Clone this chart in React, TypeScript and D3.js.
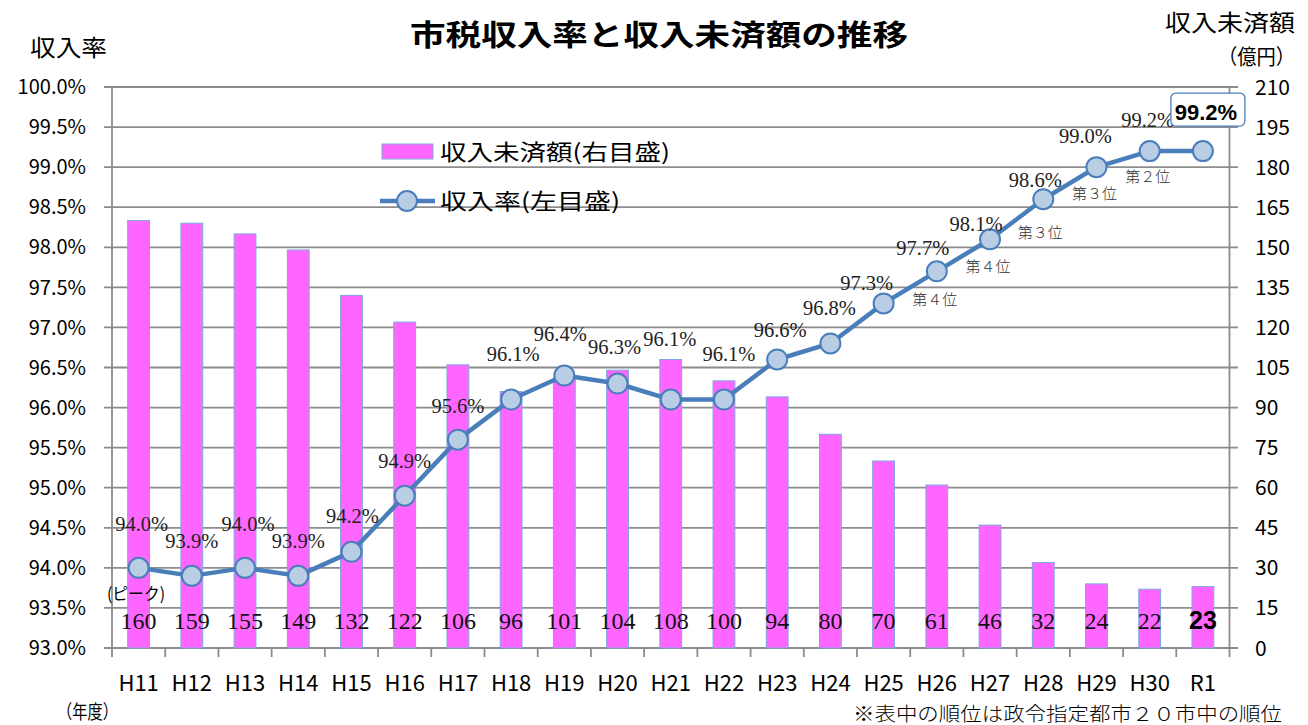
import * as d3 from "d3";
import React from "react";

// 年度
const years = [
  "H11", "H12", "H13", "H14", "H15", "H16", "H17", "H18", "H19", "H20", "H21",
  "H22", "H23", "H24", "H25", "H26", "H27", "H28", "H29", "H30", "R1",
];
// 収入未済額（億円）
const arrears = [160, 159, 155, 149, 132, 122, 106, 96, 101, 104, 108, 100, 94, 80, 70, 61, 46, 32, 24, 22, 23];
// 収入率（%）
const rates = [94.0, 93.9, 94.0, 93.9, 94.2, 94.9, 95.6, 96.1, 96.4, 96.3, 96.1, 96.1, 96.6, 96.8, 97.3, 97.7, 98.1, 98.6, 99.0, 99.2, 99.2];
// 政令市20市中の順位
const ranks = ["", "", "", "", "", "", "", "", "", "", "", "", "", "", "", "第４位", "第４位", "第３位", "第３位", "第２位", ""];
const leftTicks = d3.range(93, 100.001, 0.5);
const rightTicks = d3.range(0, 211, 15);

// label nudges (dx, dy from the marker) to mimic the hand-placed labels
const rateLabelNudge: [number, number][] = [
  [3, -37], [0, -28], [3, -37], [0, -28], [1, -29], [0, -28], [0, -27],
  [2, -39], [-4, -35], [-3, -30], [-1, -54], [5, -39], [3, -22], [-1, -28],
  [-17, -13], [-14, -16], [-14, -8], [-8, -12], [-11, -24], [-2, -24], [0, 0],
];
const rankLabelNudge: [number, number][] = years.map((_, i) =>
  [[-2, 34], [-2, 33], [-3, 39], [-2, 32], [-2, 31]][i - 15] as [number, number] || [0, 0]
);

const W = 1308;
const H = 725;
const plot = { left: 112, right: 1229.5, top: 87, bottom: 648 };

const SANS = "'Noto Sans CJK JP', 'Noto Sans', sans-serif";
const SERIF = "'Liberation Serif', 'DejaVu Serif', serif";
const NARROW = "'Liberation Sans Narrow', 'Liberation Sans', sans-serif";

const LINE = "#4a7ebb";
const GRID = "#8c8c8c";

const App: React.FC = () => {
  const x = d3.scaleBand<string>().domain(years).range([plot.left, plot.right]).padding(0);
  const yL = d3.scaleLinear().domain([93, 100]).range([plot.bottom, plot.top]);
  const yR = d3.scaleLinear().domain([0, 210]).range([plot.bottom, plot.top]);
  const cx = (y: string) => (x(y) as number) + x.bandwidth() / 2;
  const barW = x.bandwidth() * 0.41;

  const line = d3
    .line<number>()
    .x((_, i) => cx(years[i]))
    .y((d) => yL(d));

  const last = years.length - 1;

  return (
    <svg width={W} height={H} style={{ position: "absolute", left: 0, top: 0, background: "#fff" }}>
      {/* gridlines */}
      {leftTicks.map((t) => (
        <line key={t} x1={plot.left - 8} x2={plot.right + 8.5} y1={yL(t)} y2={yL(t)} stroke={GRID} strokeWidth={1.8} />
      ))}
      {/* axes */}
      <line x1={plot.left} x2={plot.left} y1={plot.top} y2={plot.bottom} stroke={GRID} strokeWidth={1.8} />
      <line x1={plot.right} x2={plot.right} y1={plot.top} y2={plot.bottom} stroke={GRID} strokeWidth={1.8} />
      {years.map((y) => (
        <line key={y} x1={x(y)} x2={x(y)} y1={plot.bottom} y2={plot.bottom + 9} stroke={GRID} strokeWidth={1.8} />
      ))}
      <line x1={plot.right} x2={plot.right} y1={plot.bottom} y2={plot.bottom + 9} stroke={GRID} strokeWidth={1.8} />

      {/* left ticks */}
      {leftTicks.map((t) => (
        <text key={t} x={86} y={yL(t)} dy="0.36em" textAnchor="end" fontFamily={SANS} fontSize={20} fill="#000">
          {t.toFixed(1) + "%"}
        </text>
      ))}
      {/* right ticks */}
      {rightTicks.map((t) => (
        <text key={t} x={1255} y={yR(t)} dy="0.36em" fontFamily={SANS} fontSize={21} fill="#000">
          {t}
        </text>
      ))}
      {/* x labels */}
      {years.map((y) => (
        <text key={y} x={cx(y)} y={691} textAnchor="middle" fontFamily={SANS} fontSize={22} fill="#000">
          {y}
        </text>
      ))}

      {/* bars */}
      {arrears.map((v, i) => (
        <rect
          key={years[i]}
          x={cx(years[i]) - barW / 2}
          y={yR(v)}
          width={barW}
          height={yR(0) - yR(v)}
          fill="#ff66ff"
          stroke="#7ea6e0"
          strokeWidth={1}
        />
      ))}
      {/* bar value labels */}
      {arrears.map((v, i) =>
        i === last ? (
          <text key={i} x={cx(years[i])} y={yR(0) - 19} textAnchor="middle" fontFamily={NARROW} fontWeight="bold" fontSize={25} fill="#000">
            {v}
          </text>
        ) : (
          <text key={i} x={cx(years[i])} y={yR(0) - 19} textAnchor="middle" fontFamily={SERIF} fontSize={24} fill="#111">
            {v}
          </text>
        )
      )}

      {/* rate line */}
      <path d={line(rates) as string} fill="none" stroke={LINE} strokeWidth={4.5} strokeLinejoin="round" />
      {rates.map((v, i) => (
        <circle key={i} cx={cx(years[i])} cy={yL(v)} r={10} fill="#b9cde5" stroke={LINE} strokeWidth={2} />
      ))}
      {/* rate labels */}
      {rates.map((v, i) =>
        i === last ? null : (
          <text
            key={i}
            x={cx(years[i]) + rateLabelNudge[i][0]}
            y={yL(v) + rateLabelNudge[i][1]}
            textAnchor="middle"
            fontFamily={SERIF}
            fontSize={20.5}
            fill="#222"
          >
            {v.toFixed(1) + "%"}
          </text>
        )
      )}
      {/* R1 highlighted label */}
      <rect x={cx(years[last]) - 32} y={yL(rates[last]) - 58} width={74} height={33} rx={5} fill="#fff" stroke={LINE} strokeWidth={1.3} />
      <text
        x={cx(years[last]) + 3}
        y={yL(rates[last]) - 31}
        textAnchor="middle"
        fontFamily={NARROW}
        fontWeight="bold"
        fontSize={22}
        fill="#000"
      >
        {rates[last].toFixed(1) + "%"}
      </text>
      {/* rank labels */}
      {ranks.map((r, i) =>
        r ? (
          <text
            key={i}
            x={cx(years[i]) + rankLabelNudge[i][0]}
            y={yL(rates[i]) + rankLabelNudge[i][1]}
            textAnchor="middle"
            fontFamily={SANS}
            fontWeight={300}
            fontSize={15}
            fill="#333"
          >
            {r}
          </text>
        ) : null
      )}
      <text x={107} y={600} fontFamily={SANS} fontSize={17} textLength={58} lengthAdjust="spacingAndGlyphs" fill="#000">
        (ピーク)
      </text>

      {/* legend */}
      <rect x={382} y={144} width={51} height={15} fill="#ff66ff" stroke="#7ea6e0" strokeWidth={1} />
      <text x={440} y={160} fontFamily={SANS} fontSize={22} textLength={230} lengthAdjust="spacingAndGlyphs" fill="#000">
        収入未済額(右目盛)
      </text>
      <line x1={380} x2={435} y1={201} y2={201} stroke={LINE} strokeWidth={4.5} />
      <circle cx={407} cy={201} r={10} fill="#b9cde5" stroke={LINE} strokeWidth={2} />
      <text x={440} y={209} fontFamily={SANS} fontSize={22} textLength={180} lengthAdjust="spacingAndGlyphs" fill="#000">
        収入率(左目盛)
      </text>

      {/* titles */}
      <text x={410} y={46} fontFamily={SANS} fontWeight="bold" fontSize={29} textLength={498} lengthAdjust="spacingAndGlyphs" fill="#000">
        市税収入率と収入未済額の推移
      </text>
      <text x={30} y={56} fontFamily={SANS} fontSize={23} textLength={77} lengthAdjust="spacingAndGlyphs" fill="#000">
        収入率
      </text>
      <text x={1165} y={31} fontFamily={SANS} fontSize={23} textLength={130} lengthAdjust="spacingAndGlyphs" fill="#000">
        収入未済額
      </text>
      <text x={1218} y={64} fontFamily={SANS} fontSize={21} textLength={77} lengthAdjust="spacingAndGlyphs" fill="#000">
        （億円）
      </text>
      <text x={57} y={719} fontFamily={SANS} fontSize={19} textLength={61} lengthAdjust="spacingAndGlyphs" fill="#000">
        （年度）
      </text>
      <text x={853} y={721} fontFamily={SANS} fontWeight={300} fontSize={19} textLength={429} lengthAdjust="spacingAndGlyphs" fill="#000">
        ※表中の順位は政令指定都市２０市中の順位
      </text>
    </svg>
  );
};

export default App;
